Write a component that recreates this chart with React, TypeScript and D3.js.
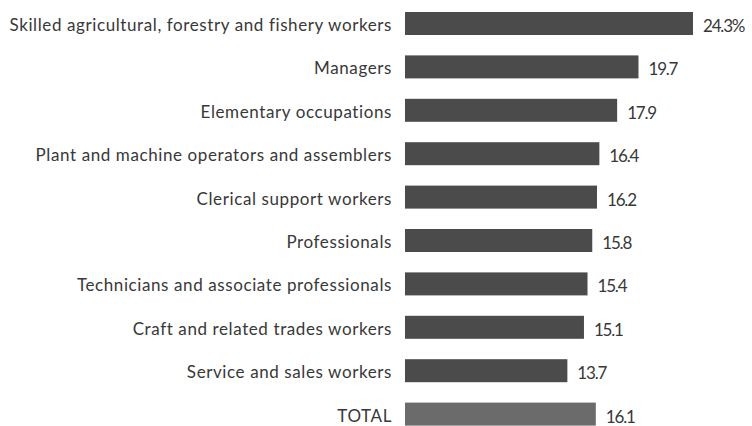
import React from "react";
import * as d3 from "d3";

const categories = [
  "Skilled agricultural, forestry and fishery workers",
  "Managers",
  "Elementary occupations",
  "Plant and machine operators and assemblers",
  "Clerical support workers",
  "Professionals",
  "Technicians and associate professionals",
  "Craft and related trades workers",
  "Service and sales workers",
  "TOTAL",
];
const values = [24.3, 19.7, 17.9, 16.4, 16.2, 15.8, 15.4, 15.1, 13.7, 16.1];
const valueLabels = ["24.3%", "19.7", "17.9", "16.4", "16.2", "15.8", "15.4", "15.1", "13.7", "16.1"];

const W = 752;
const H = 426;
const X0 = 405;
const FONT = "Lato, 'Noto Sans', sans-serif";

export default function App() {
  const x = d3.scaleLinear().domain([0, 24.3]).range([0, 288]);
  const y = d3
    .scaleBand<string>()
    .domain(categories)
    .range([1.8, 435.8])
    .paddingInner(0.47)
    .paddingOuter(0.235);

  return (
    <svg
      width={W}
      height={H}
      style={{ position: "absolute", left: 0, top: 0, background: "#fff" }}
    >
      {categories.map((c, i) => {
        const yy = y(c)!;
        const bw = y.bandwidth();
        const isTotal = c === "TOTAL";
        return (
          <g key={c}>
            <text
              x={392}
              y={yy + bw / 2 + 1}
              textAnchor="end"
              dominantBaseline="central"
              fontFamily={FONT}
              fontSize={17}
              letterSpacing={0.6}
              fill="#383838"
            >
              {c}
            </text>
            <rect
              x={X0}
              y={yy}
              width={x(values[i])}
              height={bw}
              fill={isTotal ? "#6b6b6b" : "#4b4b4b"}
            />
            <text
              x={X0 + x(values[i]) + 10}
              y={yy + bw / 2 + 2}
              dominantBaseline="central"
              fontFamily={FONT}
              fontSize={17}
              fill="#383838"
              letterSpacing={-1.2}
            >
              {valueLabels[i]}
            </text>
          </g>
        );
      })}
    </svg>
  );
}
